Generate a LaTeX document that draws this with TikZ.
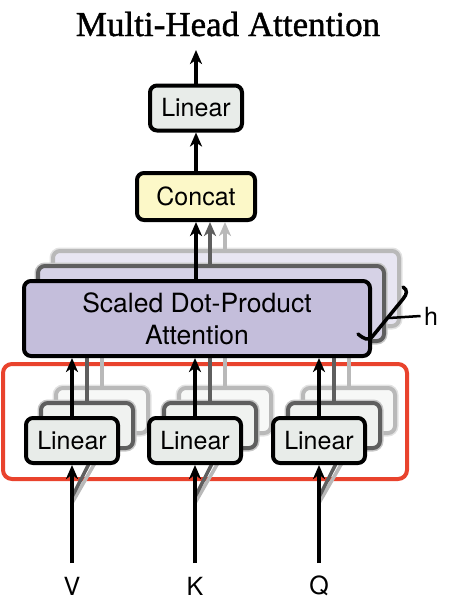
\documentclass[tikz,border=0pt]{standalone}
\usepackage{fontspec}
\setmainfont{Liberation Serif}
\setsansfont{TeX Gyre Heros}
\newfontfamily\titlefont[FakeBold=1.2]{Liberation Serif}
\usetikzlibrary{arrows.meta,decorations.pathreplacing,positioning}

\definecolor{linfill}{RGB}{232,236,233}
\definecolor{linfillb}{RGB}{240,242,240}
\definecolor{linfillc}{RGB}{247,248,247}
\definecolor{catfill}{RGB}{252,248,200}
\definecolor{attfill}{RGB}{196,190,219}
\definecolor{attfillb}{RGB}{214,210,230}
\definecolor{attfillc}{RGB}{232,230,242}
\definecolor{graydark}{RGB}{95,95,95}
\definecolor{graylight}{RGB}{185,185,185}
\definecolor{projred}{RGB}{233,67,45}

\begin{document}
\begin{tikzpicture}[x=1pt,y=-1pt,
    blk/.style={draw=black, line width=4pt, rounded corners=7pt, inner sep=0pt, align=center,
      font=\sffamily\fontsize{25}{32}\selectfont},
    lin/.style={blk, fill=linfill, minimum width=92pt, minimum height=45pt},
    att/.style={blk, fill=attfill, minimum width=346pt, minimum height=75pt,
      font=\sffamily\fontsize{26.5}{32}\selectfont},
    backb/.style={draw=graydark, preaction={draw=graydark!35, line width=7pt}},
    backc/.style={draw=graylight, preaction={draw=graylight!40, line width=7pt}},
    lbl/.style={font=\sffamily\fontsize{25}{30}\selectfont},
    arr/.style={line width=3.5pt, -{Stealth[length=14pt,width=12pt,inset=4pt]}},
    arrb/.style={arr, draw=graydark},
    arrc/.style={arr, draw=graylight},
  ] % Multi-Head Attention
  \useasboundingbox (0,0) rectangle (452,614);

  \node[font=\titlefont\fontsize{35}{40}\selectfont, anchor=base] (title) at (228,36) {Multi-Head Attention};

  \node[lin] (linout) at (196,108) {Linear};
  \node[blk, fill=catfill, minimum width=118pt, minimum height=47pt] (concat) at (196,196.5) {Concat};
  \coordinate (out) at (196,50);
  \draw[arr] (linout) -- (out);
  \draw[arr] (concat) -- (linout);

  \coordinate (catb) at ([xshift=14pt]concat.south);
  \coordinate (catc) at ([xshift=29pt]concat.south);

  \draw[projred, line width=4pt, rounded corners=9pt] (3,364) rectangle (407,479);

  \coordinate (vin) at (72,563);
  \coordinate (kin) at (195,563);
  \coordinate (qin) at (319,563);
  \coordinate (vinb) at (72,497);
  \coordinate (kinb) at (195,497);
  \coordinate (qinb) at (319,497);
  \coordinate (vinc) at (72,503);
  \coordinate (kinc) at (195,503);
  \coordinate (qinc) at (319,503);

  % light copies
  \node[att, backc, fill=attfillc] (att3) at (226,288.5) {};
  \node[lin, backc, fill=linfillc] (linv3) at (102,410.5) {};
  \node[lin, backc, fill=linfillc] (link3) at (225,410.5) {};
  \node[lin, backc, fill=linfillc] (linq3) at (349,410.5) {};
  \draw[arrc] (linv3.north) -- (linv3.north |- att3.south);
  \draw[arrc] (link3.north) -- (link3.north |- att3.south);
  \draw[arrc] (linq3.north) -- (linq3.north |- att3.south);
  \draw[arrc] (vinc) -- ([xshift=9pt]linv3.south);
  \draw[arrc] (kinc) -- ([xshift=9pt]link3.south);
  \draw[arrc] (qinc) -- ([xshift=9pt]linq3.south);
  \draw[arrc] (att3.north -| catc) -- (catc);

  % dark copies
  \node[att, backb, fill=attfillb] (att2) at (211,303.5) {};
  \node[lin, backb, fill=linfillb] (linv2) at (87,425.5) {};
  \node[lin, backb, fill=linfillb] (link2) at (210,425.5) {};
  \node[lin, backb, fill=linfillb] (linq2) at (334,425.5) {};
  \draw[arrb] (linv2.north) -- (linv2.north |- att2.south);
  \draw[arrb] (link2.north) -- (link2.north |- att2.south);
  \draw[arrb] (linq2.north) -- (linq2.north |- att2.south);
  \draw[arrb] (vinb) -- ([xshift=9pt]linv2.south);
  \draw[arrb] (kinb) -- ([xshift=9pt]link2.south);
  \draw[arrb] (qinb) -- ([xshift=9pt]linq2.south);
  \draw[arrb] (att2.north -| catb) -- (catb);

  % front
  \node[att] (att) at (197,318.5) {Scaled Dot-Product\\Attention};
  \node[lin] (linv) at (72,440.5) {Linear};
  \node[lin] (link) at (195,440.5) {Linear};
  \node[lin] (linq) at (319,440.5) {Linear};
  \draw[arr] (linv.north) -- (linv.north |- att.south);
  \draw[arr] (link.north) -- (link.north |- att.south);
  \draw[arr] (linq.north) -- (linq.north |- att.south);
  \draw[arr] (att.north -| concat.south) -- (concat.south);
  \draw[arr] (vin) -- (linv);
  \draw[arr] (kin) -- (link);
  \draw[arr] (qin) -- (linq);

  \node[lbl] (vlab) at (72,586) {V};
  \node[lbl] (klab) at (195,586) {K};
  \node[lbl] (qlab) at (319,586) {Q};

  % h heads
  \draw[line width=3.5pt, line cap=round] (358,334) .. controls (364,339) and (368,341) .. (372,337)
    -- (403,299) .. controls (407,294) and (408,290) .. (403,287);
  \coordinate (htip) at (389,318);
  \node[lbl] (hlab) at (431,316) {h};
  \draw[line width=2.5pt] (htip) -- (hlab.west);
\end{tikzpicture}
\end{document}
